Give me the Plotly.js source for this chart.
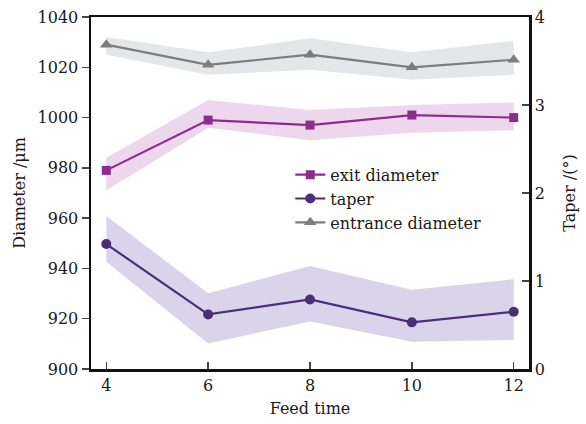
<!DOCTYPE html>
<html><head><meta charset="utf-8">
<script src="https://cdn.plot.ly/plotly-3.0.1.min.js"></script>
<style>body{margin:0;background:#fff}#chart{width:586px;height:424px}</style>
</head><body><div id="chart"></div>
<script>
const feedTime = [4, 6, 8, 10, 12];
const exitDiameter = [979, 999, 997, 1001, 1000];
const exitUpper = [984, 1007, 1003, 1005, 1006];
const exitLower = [971, 996, 991, 994, 995];
const taper = [1.42, 0.62, 0.79, 0.53, 0.65];
const taperUpper = [1.74, 0.86, 1.17, 0.90, 1.02];
const taperLower = [1.22, 0.29, 0.54, 0.31, 0.33];
const entranceDiameter = [1029, 1021, 1025, 1020, 1023];
const entranceUpper = [1032, 1026, 1031.5, 1026, 1030.5];
const entranceLower = [1025, 1017, 1019, 1015, 1017];

function band(x, up, lo, color, yaxis) {
  return {x: x.concat(x.slice().reverse()), y: up.concat(lo.slice().reverse()),
    fill: 'toself', fillcolor: color, line: {width: 0}, mode: 'lines',
    hoverinfo: 'skip', showlegend: false, yaxis: yaxis};
}
const cExit = '#8e2c8e', cTaper = '#4a2f78', cEnt = '#7d7d7d';
const data = [
  band(feedTime, entranceUpper, entranceLower, 'rgba(200,208,212,0.5)', 'y'),
  band(feedTime, exitUpper, exitLower, 'rgba(200,140,200,0.35)', 'y'),
  band(feedTime, taperUpper, taperLower, 'rgba(150,135,195,0.36)', 'y2'),
  {x: feedTime, y: exitDiameter, name: 'exit diameter', mode: 'lines+markers',
   line: {color: cExit, width: 2.2}, marker: {symbol: 'square', size: 9, color: cExit}, yaxis: 'y'},
  {x: feedTime, y: taper, name: 'taper', mode: 'lines+markers',
   line: {color: cTaper, width: 2.2}, marker: {symbol: 'circle', size: 10, color: cTaper}, yaxis: 'y2'},
  {x: feedTime, y: entranceDiameter, name: 'entrance diameter', mode: 'lines+markers',
   line: {color: cEnt, width: 2.2}, marker: {symbol: 'triangle-up', size: 11, color: cEnt}, yaxis: 'y'}
];
const font = {family: 'DejaVu Serif, serif', size: 16, color: '#1a1a1a'};
const layout = {
  width: 586, height: 424, margin: {l: 91, r: 57, t: 17, b: 55},
  paper_bgcolor: '#fff', plot_bgcolor: '#fff', font: font, showlegend: true,
  legend: {x: 0.455, y: 0.6, xanchor: 'left', yanchor: 'top', bgcolor: 'rgba(0,0,0,0)',
    font: {family: 'DejaVu Serif, serif', size: 16, color: '#1a1a1a'}, tracegroupgap: 0, itemwidth: 30},
  xaxis: {range: [3.7, 12.3], tickvals: feedTime, ticks: 'inside', ticklen: 7, tickwidth: 1.5,
    showline: true, linewidth: 2.5, linecolor: '#111', mirror: true, showgrid: false, zeroline: false,
    title: {text: 'Feed time', font: font, standoff: 9}, tickfont: font},
  yaxis: {range: [900, 1040], dtick: 20, ticks: 'outside', ticklen: 7, tickwidth: 1.5,
    showline: true, linewidth: 2.5, linecolor: '#111', showgrid: false, zeroline: false,
    title: {text: 'Diameter /μm', font: font, standoff: 8}, tickfont: font},
  yaxis2: {range: [0, 4], dtick: 1, overlaying: 'y', side: 'right', ticks: 'inside', ticklen: 7, tickwidth: 1.5,
    showline: true, linewidth: 2.5, linecolor: '#111', showgrid: false, zeroline: false,
    title: {text: 'Taper /(°)', font: font, standoff: 20}, tickfont: font}
};
Plotly.newPlot('chart', data, layout, {displayModeBar: false, staticPlot: true});
</script></body></html>
